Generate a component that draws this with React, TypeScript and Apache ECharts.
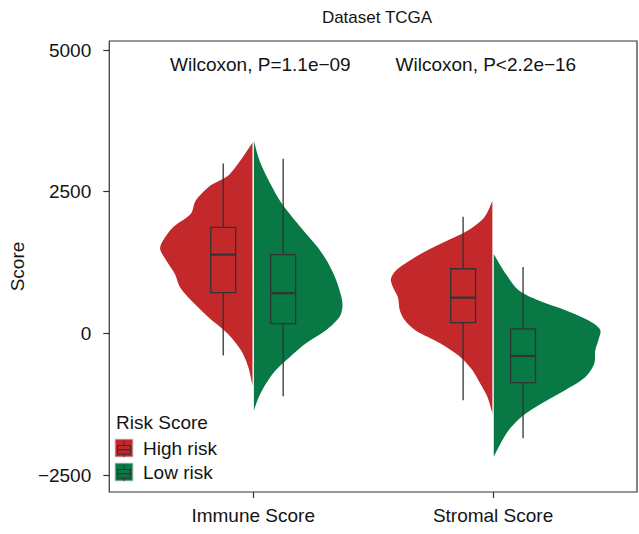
import React, { useEffect, useRef } from 'react';
import * as echarts from 'echarts';

const categories = ['Immune Score', 'Stromal Score'];
const groups = ['High risk', 'Low risk'];
const groupColors = ['#C3282B', '#087845'];
const yTicks = [-2500, 0, 2500, 5000];
const pLabels = ['Wilcoxon, P=1.1e\u221209', 'Wilcoxon, P<2.2e\u221216'];
const pLabelX = [1.03, 1.97];
const pLabelY = 4750;

// violin outlines: [score, half width in category units]
const immuneHighViolin = [
  [3370, 0], [2810, 0.095], [2600, 0.178], [2340, 0.237], [2110, 0.257], [1870, 0.332],
  [1640, 0.373], [1490, 0.385], [1290, 0.36], [1050, 0.324], [820, 0.303], [580, 0.255],
  [290, 0.185], [0, 0.105], [-300, 0.048], [-590, 0.018], [-920, 0],
];
const immuneLowViolin = [
  [3400, 0], [2990, 0.029], [2400, 0.1], [2110, 0.149], [1810, 0.207], [1520, 0.266],
  [1230, 0.311], [930, 0.344], [640, 0.365], [460, 0.369], [290, 0.357], [50, 0.299],
  [-180, 0.216], [-420, 0.149], [-650, 0.091], [-890, 0.05], [-1120, 0.021], [-1360, 0],
];
const stromalHighViolin = [
  [2340, 0], [2050, 0.033], [1810, 0.104], [1580, 0.216], [1340, 0.324], [1110, 0.402],
  [960, 0.423], [820, 0.415], [640, 0.394], [410, 0.386], [230, 0.365], [50, 0.32],
  [-180, 0.216], [-420, 0.133], [-650, 0.083], [-890, 0.05], [-1120, 0.021], [-1410, 0],
];
const stromalLowViolin = [
  [1400, 0], [1050, 0.05], [760, 0.104], [580, 0.187], [410, 0.299], [230, 0.394],
  [60, 0.444], [-120, 0.436], [-300, 0.423], [-530, 0.419], [-770, 0.382], [-1000, 0.299],
  [-1240, 0.199], [-1470, 0.116], [-1710, 0.062], [-1940, 0.029], [-2180, 0],
];

// box stats: [lower whisker, Q1, median, Q3, upper whisker]
const immuneHighBox = [-390, 720, 1390, 1870, 3000];
const immuneLowBox = [-1110, 170, 710, 1390, 3080];
const stromalHighBox = [-1180, 190, 630, 1140, 2060];
const stromalLowBox = [-1850, -870, -400, 80, 1170];

const FONT = "'Liberation Sans', Arial, Helvetica, sans-serif";
const TEXT = '#141414';
const FS = 19;
const BOX_OFFSET = 0.125;
const BOX_HALF = 0.052;

function violinSeries(name: string, side: number, profiles: number[][][], color: string) {
  return {
    type: 'custom',
    name,
    silent: true,
    z: 2,
    data: profiles.map((_, i) => [i + 1, side]),
    renderItem: (params: any, api: any) => {
      const cat = api.value(0) as number;
      const prof = profiles[params.dataIndex];
      const pts = prof.map(([v, w]) => {
        const p = api.coord([cat + side * w, v]);
        return [p[0] + side * 0.7, p[1]];
      });
      return {
        type: 'polyline',
        shape: { points: pts, smooth: 0.3 },
        style: { fill: color, stroke: 'none', lineWidth: 0 },
      };
    },
  };
}

function boxSeries(name: string, side: number, boxes: number[][], color: string) {
  return {
    type: 'custom',
    name,
    silent: true,
    z: 3,
    data: boxes.map((b, i) => [i + 1, side, ...b]),
    renderItem: (params: any, api: any) => {
      const cat = api.value(0) as number;
      const x = cat + side * BOX_OFFSET;
      const lo = api.value(2), q1 = api.value(3), med = api.value(4), q3 = api.value(5), hi = api.value(6);
      const pHi = api.coord([x, hi]);
      const pLo = api.coord([x, lo]);
      const tl = api.coord([x - BOX_HALF, q3]);
      const br = api.coord([x + BOX_HALF, q1]);
      const mL = api.coord([x - BOX_HALF, med]);
      const mR = api.coord([x + BOX_HALF, med]);
      const stroke = '#333333';
      return {
        type: 'group',
        children: [
          { type: 'line', shape: { x1: pHi[0], y1: pHi[1], x2: pHi[0], y2: tl[1] }, style: { stroke, lineWidth: 1.3 } },
          { type: 'line', shape: { x1: pLo[0], y1: br[1], x2: pLo[0], y2: pLo[1] }, style: { stroke, lineWidth: 1.3 } },
          { type: 'rect', shape: { x: tl[0], y: tl[1], width: br[0] - tl[0], height: br[1] - tl[1] }, style: { fill: color, stroke, lineWidth: 1.3 } },
          { type: 'line', shape: { x1: mL[0], y1: mL[1], x2: mR[0], y2: mR[1] }, style: { stroke, lineWidth: 2.2 } },
        ],
      };
    },
  };
}

function legendKey(x: number, y: number, color: string) {
  const s = '#333333';
  return {
    type: 'group',
    children: [
      { type: 'rect', shape: { x, y, width: 18, height: 18 }, style: { fill: color, stroke: '#d8d8d8', lineWidth: 1 } },
      { type: 'rect', shape: { x: x + 2.5, y: y + 6.5, width: 13, height: 8.5 }, style: { fill: 'none', stroke: s, lineWidth: 1 } },
      { type: 'line', shape: { x1: x + 2.5, y1: y + 10.7, x2: x + 15.5, y2: y + 10.7 }, style: { stroke: s, lineWidth: 1.3 } },
      { type: 'line', shape: { x1: x + 9, y1: y + 2, x2: x + 9, y2: y + 6.5 }, style: { stroke: s, lineWidth: 1 } },
      { type: 'line', shape: { x1: x + 9, y1: y + 15, x2: x + 9, y2: y + 18 }, style: { stroke: s, lineWidth: 1 } },
    ],
  };
}

export default function App() {
  const ref = useRef<HTMLDivElement>(null);
  useEffect(() => {
    if (!ref.current) return;
    const chart = echarts.init(ref.current, undefined, { renderer: 'svg' });
    const option: any = {
      animation: false,
      backgroundColor: '#ffffff',
      grid: {
        left: 106, right: 2, top: 41, bottom: 42,
        show: true, borderColor: '#333333', borderWidth: 1.2, backgroundColor: 'transparent',
      },
      xAxis: {
        type: 'value', min: 0.4, max: 2.6,
        axisLine: { show: false, onZero: false },
        splitLine: { show: false },
        axisTick: { show: true, customValues: [1, 2], length: 6, lineStyle: { color: '#333333', width: 1.2 } },
        axisLabel: {
          customValues: [1, 2],
          formatter: (v: number) => categories[Math.round(v) - 1] ?? '',
          fontSize: FS, color: TEXT, margin: 14, fontFamily: FONT,
        },
      },
      yAxis: {
        type: 'value', min: -2800, max: 5160,
        name: 'Score', nameLocation: 'middle', nameGap: 79,
        nameTextStyle: { fontSize: FS, color: TEXT, fontFamily: FONT },
        axisLine: { show: false, onZero: false },
        splitLine: { show: false },
        axisTick: { show: true, customValues: yTicks, length: 6, lineStyle: { color: '#333333', width: 1.2 } },
        axisLabel: {
          customValues: yTicks,
          formatter: (v: number) => (v < 0 ? '\u2212' + Math.abs(v) : String(v)),
          fontSize: FS, color: TEXT, margin: 18, fontFamily: FONT,
        },
      },
      series: [
        violinSeries(groups[0], -1, [immuneHighViolin, stromalHighViolin], groupColors[0]),
        violinSeries(groups[1], 1, [immuneLowViolin, stromalLowViolin], groupColors[1]),
        boxSeries(groups[0], -1, [immuneHighBox, stromalHighBox], groupColors[0]),
        boxSeries(groups[1], 1, [immuneLowBox, stromalLowBox], groupColors[1]),
        {
          type: 'custom', silent: true, z: 5,
          data: pLabels.map((_, i) => [pLabelX[i], pLabelY]),
          renderItem: (params: any, api: any) => {
            const p = api.coord([api.value(0), api.value(1)]);
            return {
              type: 'text', x: p[0], y: p[1],
              style: {
                text: pLabels[params.dataIndex], fontSize: FS, fill: TEXT, fontFamily: FONT,
                textAlign: 'center', textVerticalAlign: 'middle',
              },
            };
          },
        },
      ],
      graphic: [
        {
          type: 'text', x: 377, y: 17,
          style: { text: 'Dataset TCGA', fontSize: 17, fill: TEXT, fontFamily: FONT, textAlign: 'center', textVerticalAlign: 'middle' },
        },
        {
          type: 'text', x: 116, y: 422,
          style: { text: 'Risk Score', fontSize: FS, fill: TEXT, fontFamily: FONT, textAlign: 'left', textVerticalAlign: 'middle' },
        },
        legendKey(115, 439, groupColors[0]),
        legendKey(115, 463, groupColors[1]),
        {
          type: 'text', x: 143, y: 448,
          style: { text: groups[0], fontSize: FS, fill: TEXT, fontFamily: FONT, textAlign: 'left', textVerticalAlign: 'middle' },
        },
        {
          type: 'text', x: 143, y: 472,
          style: { text: groups[1], fontSize: FS, fill: TEXT, fontFamily: FONT, textAlign: 'left', textVerticalAlign: 'middle' },
        },
      ],
    };
    chart.setOption(option);
    return () => chart.dispose();
  }, []);
  return <div ref={ref} style={{ position: 'fixed', left: 0, top: 0, width: 639, height: 534 }} />;
}
